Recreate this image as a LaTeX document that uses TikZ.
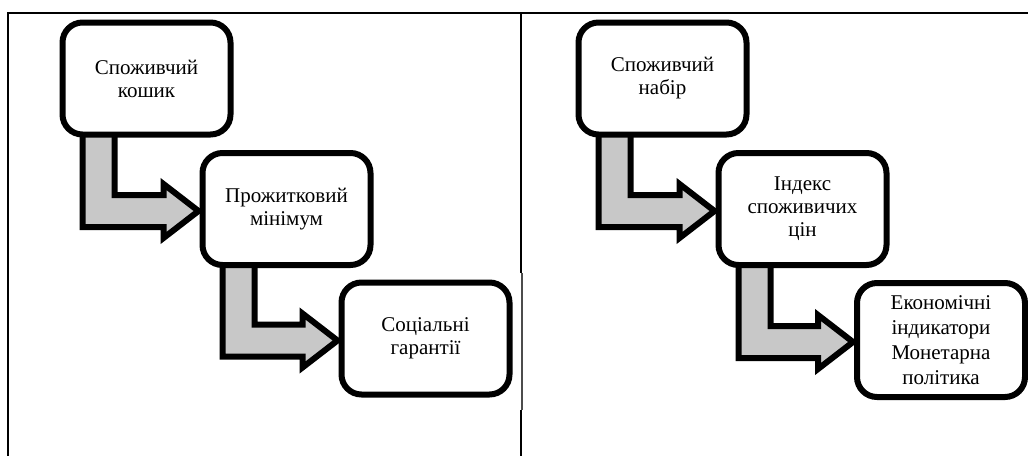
\documentclass[tikz,border=0pt]{standalone}
\usepackage{fontspec}
\setmainfont{Liberation Serif}
\usetikzlibrary{calc,shadows}
\definecolor{arrowgray}{RGB}{200,200,200}
\pgfdeclarelayer{bg}
\pgfsetlayers{bg,main}
\tikzset{
  stepbox/.style={draw=black, line width=6pt, rounded corners=20pt, fill=white,
    minimum width=168pt, minimum height=112pt, outer sep=0pt, inner sep=0pt,
    align=center, font=\fontsize{21}{23}\selectfont,
    drop shadow={opacity=0.25, shadow xshift=1.5pt, shadow yshift=-1.5pt}},
  bentarrow/.style={draw=black, line width=6pt, fill=arrowgray, miter limit=10,
    drop shadow={opacity=0.25, shadow xshift=1.5pt, shadow yshift=-1.5pt}},
  frameline/.style={line width=1.8pt, black}
}
\newcommand{\bentarr}[2]{%
  \draw[bentarrow] let \p1=(#1.south west), \p2=(#2.west) in
    (\x1+20pt,\y1+3pt) -- (\x1+20pt,\y2-18pt) -- (\x2-39pt,\y2-18pt)
    -- (\x2-39pt,\y2-29pt) -- (\x2-4pt,\y2-2pt) -- (\x2-39pt,\y2+25pt)
    -- (\x2-39pt,\y2+14pt) -- (\x1+52pt,\y2+14pt) -- (\x1+52pt,\y1+3pt) -- cycle;}
\begin{document}
\begin{tikzpicture}[x=1pt,y=-1pt]
\useasboundingbox (0,0) rectangle (1028,456);
% frame
\draw[frameline] (7,13) -- (1028,13);
\draw[frameline] (8,13) -- (8,456);
\draw[line width=1.5pt] (521,13) -- (521,273);
\draw[line width=1.2pt, black!70] (522,273) -- (522,410);
\draw[line width=1.5pt] (521,410) -- (521,456);
% left panel
\node[stepbox] (l1) at (146.5,78.5) {Споживчий\\кошик};
\node[stepbox] (l2) at (286.5,209) {Прожитковий\\мінімум};
\node[stepbox] (l3) at (425.5,338.5) {Соціальні\\гарантії};
% right panel
\node[stepbox] (r1) at (662.5,78.5) {Споживчий\\набір};
\node[stepbox] (r2) at (802.5,209) {Індекс\\споживичих\\цін};
\node[stepbox, minimum height=114pt, font=\fontsize{21}{25}\selectfont] (r3) at (941,340) {Економічні\\індикатори\\ Монетарна\\політика};
\begin{pgfonlayer}{bg}
\bentarr{l1}{l2}
\bentarr{l2}{l3}
\bentarr{r1}{r2}
\bentarr{r2}{r3}
\end{pgfonlayer}
\end{tikzpicture}
\end{document}
